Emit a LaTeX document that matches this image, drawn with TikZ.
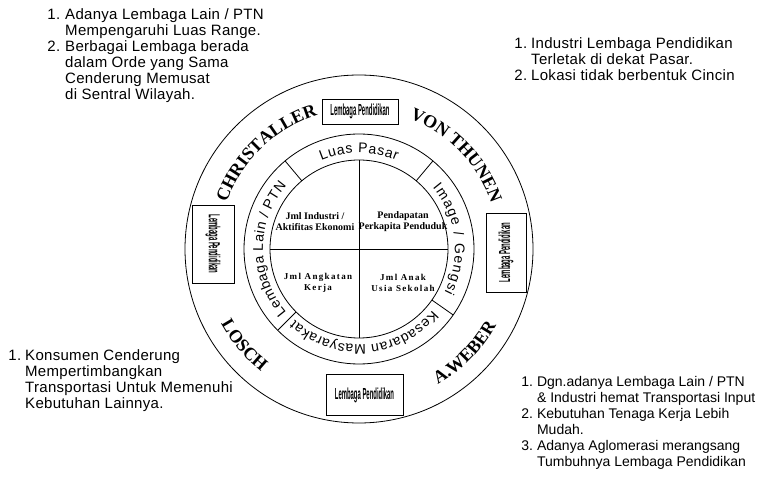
\documentclass[tikz,border=0pt]{standalone}
\usepackage{fontspec}
\setmainfont{Liberation Serif}
\setsansfont{Liberation Sans}
\newfontfamily\notefont[LetterSpace=2]{Liberation Sans}
\newfontfamily\spacedserif[LetterSpace=15]{Liberation Serif}
\usetikzlibrary{decorations.text}

\newcommand{\lpText}{\scalebox{0.37}[1]{Lembaga Pendidikan}}

\begin{document}
\begin{tikzpicture}[x=1pt, y=1pt, line width=0.8pt,
    note/.style={anchor=base west, inner sep=0pt, font=\notefont\fontsize{15}{16}\selectfont},
    lpbox/.style={draw, line width=0.7pt, inner sep=0pt, font=\sffamily\bfseries\fontsize{16}{16}\selectfont},
    quad/.style={align=center, inner sep=0pt, font=\bfseries\fontsize{10}{11}\selectfont},
    quadsp/.style={align=center, inner sep=0pt, font=\spacedserif\bfseries\fontsize{9}{11}\selectfont},
    ringtext/.style={decorate, decoration={text along path, text align=fit to path,
      text={|\sffamily\fontsize{14}{14}\selectfont|#1}}},
    nametext/.style={decorate, decoration={text along path, text align=center,
      text={|\rmfamily\bfseries\fontsize{18}{18}\selectfont|#1}}}]
  \useasboundingbox (0,0) rectangle (760,490);

  % Lingkaran
  \coordinate (c) at (359,241);
  \draw (c) circle (89);
  \draw (c) circle (115);
  \draw (c) circle (174);
  \draw (c) ++(-89,0) -- ++(178,0);
  \draw (c) ++(0,-89) -- ++(0,178);
  \foreach \a in {130, 50, -35, -135} {
    \draw (c) ++(\a:89) -- ++(\a:26);
  }

  % Kuadran dalam
  \node[quad] (q1) at (315,268) {Jml Industri /\\Aktifitas Ekonomi};
  \node[quad] (q2) at (403,268) {Pendapatan\\Perkapita Penduduk};
  \node[quadsp] (q3) at (318,207) {Jml Angkatan\\Kerja};
  \node[quadsp] (q4) at (403,207) {Jml Anak\\Usia Sekolah};

  % Cincin tengah
  \path[ringtext={Luas Pasar}] ([shift={(113:96)}]c) arc[start angle=113, end angle=67, radius=96];
  \path[ringtext={Image / Gengsi}] ([shift={(40:96)}]c) arc[start angle=40, end angle=-27, radius=96];
  \path[ringtext={Kesadaran Masyarakat}] ([shift={(-40:96)}]c) arc[start angle=-40, end angle=-132, radius=96];
  \path[ringtext={Lembaga Lain / PTN}] ([shift={(221:96)}]c) arc[start angle=221, end angle=139, radius=96];

  % Nama tokoh
  \path[nametext={CHRISTALLER}] ([shift={(175:140)}]c) arc[start angle=175, end angle=93, radius=140];
  \path[nametext={VON THUNEN}] ([shift={(85:140)}]c) arc[start angle=85, end angle=3, radius=140];
  \path[nametext={A.WEBER}] ([shift={(-80:157)}]c) arc[start angle=-80, end angle=-9, radius=157];
  \path[nametext={LOSCH}] ([shift={(-175:157)}]c) arc[start angle=-175, end angle=-105, radius=157];

  % Kotak lembaga pendidikan
  \node[lpbox, minimum width=76, minimum height=25] (lpAtas) at (360,378.5) {\lpText};
  \node[lpbox, rotate=-90, minimum width=78, minimum height=42] (lpKiri) at (213,246) {\lpText};
  \node[lpbox, rotate=90, minimum width=79, minimum height=40] (lpKanan) at (506,237.5) {\lpText};
  \node[lpbox, minimum width=77, minimum height=41] (lpBawah) at (364.5,95) {\lpText};

  % Catatan
  \node[note] (catChristaller) at (47,470) {\begin{tabular}[t]{@{}l@{\hspace{5pt}}l@{}}
    1. & Adanya Lembaga Lain / PTN\\
       & Mempengaruhi Luas Range.\\
    2. & Berbagai Lembaga berada\\
       & dalam Orde yang Sama\\
       & Cenderung Memusat\\
       & di Sentral Wilayah.
  \end{tabular}};
  \node[note] (catThunen) at (514,441) {\begin{tabular}[t]{@{}l@{\hspace{4pt}}l@{}}
    1. & Industri Lembaga Pendidikan\\
       & Terletak di dekat Pasar.\\
    2. & Lokasi tidak berbentuk Cincin
  \end{tabular}};
  \node[note] (catLosch) at (8,129) {\begin{tabular}[t]{@{}l@{\hspace{4pt}}l@{}}
    1. & Konsumen Cenderung\\
       & Mempertimbangkan\\
       & Transportasi Untuk Memenuhi\\
       & Kebutuhan Lainnya.
  \end{tabular}};
  \node[note, font=\sffamily\fontsize{14}{16}\selectfont] (catWeber) at (521,103) {\begin{tabular}[t]{@{}l@{\hspace{4pt}}l@{}}
    1. & Dgn.adanya Lembaga Lain / PTN\\
       & \& Industri hemat Transportasi Input\\
    2. & Kebutuhan Tenaga Kerja Lebih\\
       & Mudah.\\
    3. & Adanya Aglomerasi merangsang\\
       & Tumbuhnya Lembaga Pendidikan
  \end{tabular}};
\end{tikzpicture}
\end{document}
